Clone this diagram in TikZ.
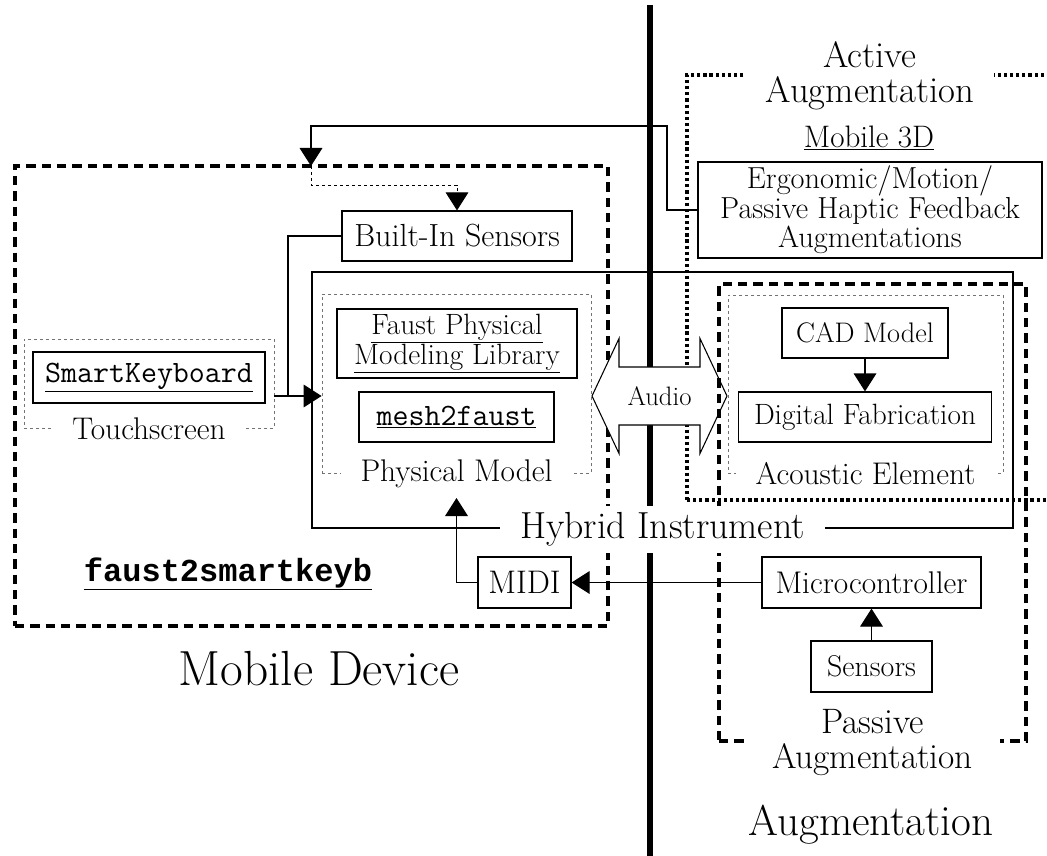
\documentclass[tikz,border=0pt]{standalone}
\usepackage{fontspec}
\newfontfamily\codebold{Liberation Mono}
\usetikzlibrary{arrows.meta}

\newcommand\setfs[2]{\fontsize{#1}{#2}\selectfont}

\tikzset{
  box/.style={draw, line width=0.9pt, inner sep=0pt, align=center, font=\setfs{23.5}{22}},
  thinbox/.style={box, font=\setfs{22}{20.25}},
  codebox/.style={box, font=\setfs{23.3}{22}\ttfamily},
  graybox/.style={draw=black!55, line width=0.6pt, dash pattern=on 2.6pt off 1.9pt, inner sep=0pt},
  heavydash/.style={draw, line width=2.6pt, dash pattern=on 7pt off 4.5pt, inner sep=0pt},
  heavydot/.style={draw, line width=2.6pt, dash pattern=on 2.4pt off 2.2pt, inner sep=0pt},
  hybridbox/.style={draw, line width=1.8pt, inner sep=0pt},
  lbl/.style={fill=white, inner xsep=15pt, inner ysep=1pt, align=center, font=\setfs{23.5}{22}},
  conn/.style={line width=0.9pt},
  thindash/.style={draw=black, line width=0.6pt, dash pattern=on 2.6pt off 1.9pt},
  tip/.style={-{Triangle[length=13.5pt,width=17pt]}},
  divider/.style={line width=4.5pt},
}

\begin{document}
\begin{tikzpicture}[x=0.75pt,y=-0.75pt]
\useasboundingbox (0,0) rectangle (1047,856);

% dividing line between the device side and the augmentation side
\coordinate (divtop) at (650,5);
\coordinate (divbot) at (650,856);
\draw[divider] (divtop) -- (divbot);

% large grouping boxes
\node[heavydash, minimum width=444.75pt, minimum height=345pt] (mobile) at (311.5,396) {};
\node[heavydot, minimum width=287.25pt, minimum height=318.75pt] (active) at (878.5,287.5) {};
\node[hybridbox, minimum width=525.75pt, minimum height=192pt] (hyb) at (662.5,400) {};

% dashed sub-groups
\node[graybox, minimum width=187.5pt, minimum height=66.75pt] (tsbox) at (149,383.5) {};
\node[graybox, minimum width=201.75pt, minimum height=134.25pt] (pmbox) at (456.5,383.5) {};
\node[graybox, minimum width=206.25pt, minimum height=133.5pt] (acbox) at (865.5,384) {};

% blocks
\node[codebox, minimum width=174pt, minimum height=38.25pt] (skb) at (149,377.5) {\underline{SmartKeyboard}};
\node[box, minimum width=172.5pt, minimum height=37.5pt, font=\setfs{24}{22}] (bis) at (457,236) {Built-In Sensors};
\node[thinbox, minimum width=180pt, minimum height=51.75pt] (fpml) at (457,343.5) {\underline{Faust Physical}\\\underline{Modeling Library}};
\node[codebox, minimum width=146.25pt, minimum height=37.5pt] (m2f) at (456.5,417) {\underline{mesh2faust}};
\node[thinbox, minimum width=124.5pt, minimum height=37.5pt, font=\setfs{21.2}{22}] (cad) at (865,333) {CAD Model};
\node[thinbox, minimum width=189.75pt, minimum height=37.5pt] (dfab) at (865,417) {Digital Fabrication};
\node[box, minimum width=258pt, minimum height=72pt, font=\setfs{22.8}{19.5}] (ergo) at (870,210) {Ergonomic/Motion/\\Passive Haptic Feedback\\Augmentations};
\node[box, minimum width=69.75pt, minimum height=38.25pt, font=\setfs{24.5}{22}] (midi) at (524.5,582.5) {MIDI};
\node[box, minimum width=164.25pt, minimum height=38.25pt] (micro) at (871.5,582.5) {Microcontroller};
\node[box, minimum width=90.75pt, minimum height=38.25pt, font=\setfs{22.5}{22}] (sens) at (871.5,666.5) {Sensors};

% two-way audio link
\node[inner sep=0pt] (audio) at (659.5,396) {};
\draw[line width=0.8pt, fill=white]
  ([shift={(-67.5,0)}]audio.center) -- ([shift={(-40.5,-57.5)}]audio.center)
  -- ([shift={(-40.5,-29)}]audio.center) -- ([shift={(40.5,-29)}]audio.center)
  -- ([shift={(40.5,-57.5)}]audio.center) -- ([shift={(67.5,0)}]audio.center)
  -- ([shift={(40.5,57.5)}]audio.center) -- ([shift={(40.5,29)}]audio.center)
  -- ([shift={(-40.5,29)}]audio.center) -- ([shift={(-40.5,57.5)}]audio.center)
  -- cycle;
\node[font=\setfs{20}{20}] (audiotxt) at (audio.center) {Audio};

\node[heavydash, minimum width=230.25pt, minimum height=342.75pt] (passive) at (872.5,512.5) {};

% group labels sitting on the box edges
\node[lbl] (tslbl) at (tsbox.south) {Touchscreen};
\node[lbl] (pmlbl) at (pmbox.south) {Physical Model};
\node[lbl] (aclbl) at (acbox.south) {Acoustic Element};
\node[lbl, font=\setfs{28.3}{26}, inner xsep=15pt, inner ysep=5pt] (hyblbl) at (hyb.south) {Hybrid Instrument};
\node[lbl, font=\setfs{26.5}{26}, inner xsep=20pt] (passlbl) at (passive.south) {Passive\\Augmentation};
\node[lbl, font=\setfs{27.5}{26.5}] (actlbl) at (870,76) {Active\\Augmentation};

% connectors
\coordinate (topR) at (667,126);
\coordinate (mobtop) at (311,166);
\coordinate (inrow) at (288,396);
\coordinate (pmin) at (456.5,498);
\draw[conn, tip] (ergo.west) -| (topR) -| (mobtop);
\draw[thindash, tip] (mobtop) -- ++(0,19) -| (bis.north);
\draw[conn] (bis.west) -| (inrow);
\draw[conn, tip] (tsbox.east |- inrow) -- (pmbox.west |- inrow);
\draw[conn, tip] (midi.west) -| (pmin);
\draw[conn, tip] (micro.west) -- (midi.east);
\draw[conn, tip] (sens.north) -- (micro.south);
\draw[conn, tip] (cad.south) -- (dfab.north);

% free-standing titles
\node[font=\setfs{23.3}{22}] (m3d) at (869,138) {\underline{Mobile 3D}};
\node[font=\setfs{24}{26}\codebold\bfseries] (f2sk) at (228,574) {\underline{faust2smartkeyb}};
\node[font=\setfs{37}{38}] (mobdev) at (319,669) {Mobile Device};
\node[font=\setfs{32.3}{34}] (augm) at (871,825) {Augmentation};
\end{tikzpicture}
\end{document}
